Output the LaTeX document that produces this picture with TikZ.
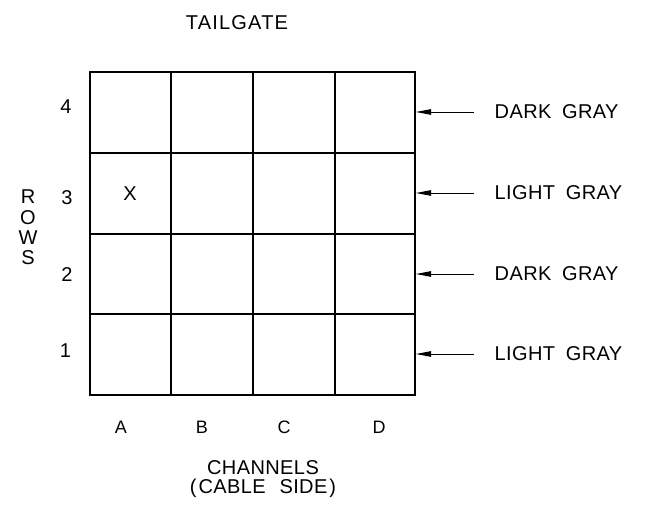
\documentclass[tikz,border=0pt]{standalone}
\usepackage{fontspec}
\setmainfont{Liberation Sans}[LetterSpace=2,WordSpace=1.8]
\newfontfamily\widefont{Liberation Sans}[LetterSpace=6]
\usetikzlibrary{arrows.meta}
\begin{document}
\begin{tikzpicture}[x=1bp,y=-1bp,
  gridline/.style={line width=1.7bp, line cap=rect},
  lbl/.style={font=\fontsize{20bp}{22bp}\selectfont, inner sep=0pt},
  small/.style={font=\fontsize{18bp}{20bp}\selectfont, inner sep=0pt},
  arr/.style={line width=0.9bp, -{Triangle[length=15bp,width=5.5bp]}}]
\useasboundingbox (0,0) rectangle (654,507);
% grid corners
\coordinate (gtl) at (90,72);
\coordinate (gbr) at (415,395);
\draw[gridline] (gtl) rectangle (gbr);
\foreach \x in {171,253,335}{
  \draw[gridline] (\x,72) -- (\x,395);
}
\foreach \y in {153,234,314}{
  \draw[gridline] (90,\y) -- (415,\y);
}
% title
\node[lbl, font=\widefont\fontsize{20bp}{22bp}\selectfont] (tail) at (237,22.5) {TAILGATE};
% row numbers
\node[lbl] (r4) at (66,106.5) {4};
\node[lbl] (r3) at (67,198) {3};
\node[lbl] (r2) at (67,274.5) {2};
\node[lbl] (r1) at (65.5,350.5) {1};
% ROWS vertical
\node[lbl] (rowsR) at (28,197) {R};
\node[lbl] (rowsO) at (28,217.5) {O};
\node[lbl] (rowsW) at (28,237.5) {W};
\node[lbl] (rowsS) at (28,257.5) {S};
% X mark
\node[lbl] (xmark) at (130,194) {X};
% column labels
\node[small] (cA) at (121,427.5) {A};
\node[small] (cB) at (202,427.5) {B};
\node[small] (cC) at (284,427.5) {C};
\node[small] (cD) at (379,427.5) {D};
\node[lbl] (chan) at (263,467.5) {CHANNELS};
\node[lbl] (cable) at (263,488) {(\kern2bp CABLE\kern3bp{} SIDE\kern2bp)};
% right labels
\node[lbl, anchor=west] (l4) at (494.5,112) {DARK GRAY};
\node[lbl, anchor=west] (l3) at (494.5,193) {LIGHT GRAY};
\node[lbl, anchor=west] (l2) at (494.5,274) {DARK GRAY};
\node[lbl, anchor=west] (l1) at (494.5,354) {LIGHT GRAY};
% arrows to the right edge of the grid
\foreach \i/\y in {4/112,3/193,2/274,1/354}{
  \coordinate (s\i) at (474,\y);
  \coordinate (t\i) at (416,\y);
  \draw[arr] (s\i) -- (t\i);
}
\end{tikzpicture}
\end{document}
